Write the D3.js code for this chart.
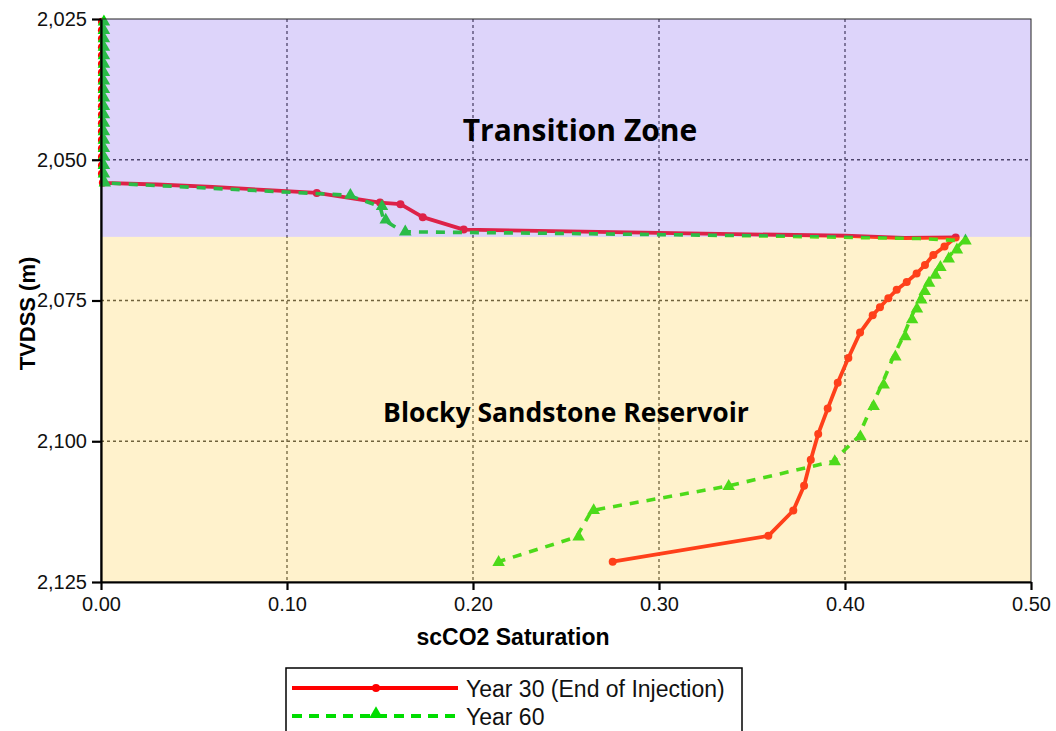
<!DOCTYPE html>
<html>
<head>
<meta charset="utf-8">
<script src="https://cdn.jsdelivr.net/npm/d3@7"></script>
<style>
  html, body { margin: 0; padding: 0; background: #ffffff; }
  svg { display: block; }
</style>
</head>
<body>
<svg id="chart" width="1056" height="731"></svg>
<script>
// scCO2 saturation profiles versus depth (TVDSS)
const xTicks = [0, 0.10, 0.20, 0.30, 0.40, 0.50];
const yTicks = [2025, 2050, 2075, 2100, 2125];

// Zones: [top depth, bottom depth]
const zoneNames = ["Transition Zone", "Blocky Sandstone Reservoir"];
const zoneTops = [2025, 2063.7];
const zoneBottoms = [2063.7, 2125];

const seriesNames = ["Year 30 (End of Injection)", "Year 60"];

// Year 30 profile
const y30Sat = [
  0.0005, 0.0005, 0.0005, 0.0005, 0.0005, 0.0005, 0.0005, 0.0005, 0.0005, 0.0005,
  0.0005, 0.0005, 0.0005, 0.0005, 0.0005, 0.0005, 0.0005, 0.0005, 0.0005,
  0.001, 0.03, 0.06, 0.09, 0.116, 0.150, 0.161, 0.173, 0.195,
  0.30, 0.40, 0.432, 0.4595,
  0.4535, 0.4475, 0.4430, 0.4385, 0.4332, 0.4278, 0.4233, 0.4188, 0.4149,
  0.4081, 0.4018, 0.3961, 0.3907, 0.3856, 0.3816, 0.3780, 0.3722, 0.3588, 0.2751
];
const y30Depth = [
  2025.5, 2027.0, 2028.5, 2030.0, 2031.5, 2033.0, 2034.5, 2036.0, 2037.5, 2039.0,
  2040.5, 2042.0, 2043.5, 2045.0, 2046.5, 2048.0, 2049.5, 2051.0, 2052.5,
  2054.1, 2054.4, 2054.8, 2055.4, 2055.9, 2057.6, 2057.9, 2060.2, 2062.4,
  2063.0, 2063.5, 2063.9, 2063.8,
  2065.4, 2066.9, 2068.7, 2070.2, 2071.7, 2073.1, 2074.6, 2076.2, 2077.6,
  2080.7, 2085.2, 2089.6, 2094.2, 2098.7, 2103.3, 2107.9, 2112.3, 2116.8, 2121.4
];

// Year 60 profile
const y60Sat = [
  0.0005, 0.0005, 0.0005, 0.0005, 0.0005, 0.0005, 0.0005, 0.0005, 0.0005, 0.0005,
  0.0005, 0.0005, 0.0005, 0.0005, 0.0005, 0.0005, 0.0005, 0.0005, 0.0005,
  0.001, 0.133, 0.150, 0.152, 0.1625,
  0.25, 0.35, 0.44, 0.4637,
  0.4591, 0.4547, 0.4502, 0.4475, 0.4441, 0.4418, 0.4399, 0.4376, 0.4350,
  0.4313, 0.4260, 0.4197, 0.4143, 0.4072, 0.3934, 0.3364, 0.2638, 0.2557, 0.2127
];
const y60Depth = [
  2025.5, 2027.0, 2028.5, 2030.0, 2031.5, 2033.0, 2034.5, 2036.0, 2037.5, 2039.0,
  2040.5, 2042.0, 2043.5, 2045.0, 2046.5, 2048.0, 2049.5, 2051.0, 2052.5,
  2054.1, 2056.3, 2058.3, 2060.7, 2062.8,
  2063.1, 2063.5, 2064.0, 2064.4,
  2066.0, 2067.6, 2069.1, 2070.5, 2071.9, 2073.4, 2074.9, 2076.5, 2078.4,
  2081.4, 2085.0, 2090.0, 2093.8, 2099.2, 2103.6, 2108.0, 2112.3, 2117.0, 2121.5
];

// Only some vertices carry a visible marker
const y60NoMarker = new Set([24, 25, 26]);
const y30NoMarker = new Set([20, 21, 22, 28, 29, 30]);

const svg = d3.select("#chart");
const plot = { left: 101, right: 1031, top: 19, bottom: 582 };

const x = d3.scaleLinear().domain([0, 0.5]).range([plot.left, plot.right]);
const y = d3.scaleLinear().domain([2025, 2125]).range([plot.top, plot.bottom]);

const fontFamily = "'Liberation Sans', Arial, sans-serif";

// Gridlines
const grid = svg.append("g").attr("class", "grid");
grid.selectAll("line.vx")
  .data(xTicks.slice(1, -1))
  .join("line")
  .attr("x1", d => x(d)).attr("x2", d => x(d))
  .attr("y1", plot.top).attr("y2", plot.bottom)
  .attr("stroke", "#333").attr("stroke-width", 1.3)
  .attr("stroke-dasharray", "3,3");
grid.selectAll("line.hy")
  .data(yTicks.slice(1, -1))
  .join("line")
  .attr("x1", plot.left).attr("x2", plot.right)
  .attr("y1", d => y(d)).attr("y2", d => y(d))
  .attr("stroke", "#333").attr("stroke-width", 1.3)
  .attr("stroke-dasharray", "3,3");

// Series
function drawSeries(sat, depth, color, dashed, marker, skip) {
  const pts = sat.map((s, i) => [s, depth[i]]);
  const line = d3.line().x(d => x(d[0])).y(d => y(d[1]));
  const g = svg.append("g");
  g.append("path")
    .attr("d", line(pts))
    .attr("fill", "none")
    .attr("stroke", color)
    .attr("stroke-width", dashed ? 3.6 : 3.8)
    .attr("stroke-linejoin", "round")
    .attr("stroke-dasharray", dashed ? "9,8" : null);
  const mk = pts.filter((d, i) => !skip.has(i));
  if (marker === "circle") {
    g.selectAll("circle").data(mk).join("circle")
      .attr("cx", d => x(d[0])).attr("cy", d => y(d[1]))
      .attr("r", 4).attr("fill", color);
  } else {
    const tri = d3.symbol().type(d3.symbolTriangle).size(68);
    g.selectAll("path.m").data(mk).join("path")
      .attr("class", "m")
      .attr("d", tri)
      .attr("transform", d => `translate(${x(d[0]) + 2},${y(d[1])})`)
      .attr("fill", color);
  }
}
drawSeries(y30Sat, y30Depth, "#ff0000", false, "circle", y30NoMarker);
drawSeries(y60Sat, y60Depth, "#00dd00", true, "triangle", y60NoMarker);

// Zone shading laid over the plot area (translucent)
const zoneColors = ["#8e70ee", "#ffd455"];
svg.append("g").selectAll("rect")
  .data(zoneNames)
  .join("rect")
  .attr("x", plot.left)
  .attr("width", plot.right - plot.left)
  .attr("y", (d, i) => y(zoneTops[i]))
  .attr("height", (d, i) => y(zoneBottoms[i]) - y(zoneTops[i]))
  .attr("fill", (d, i) => zoneColors[i])
  .attr("fill-opacity", 0.3);

// Zone labels
const zoneLabelX = [580, 566];
const zoneLabelDepth = [2046.6, 2096.5];
const zoneLabelSize = [30, 26.5];
svg.append("g").selectAll("text")
  .data(zoneNames)
  .join("text")
  .attr("x", (d, i) => zoneLabelX[i])
  .attr("y", (d, i) => y(zoneLabelDepth[i]))
  .attr("text-anchor", "middle")
  .attr("font-family", "'Open Sans', sans-serif")
  .attr("font-weight", "bold")
  .attr("font-size", (d, i) => zoneLabelSize[i])
  .attr("fill", "#000")
  .text(d => d);

// Plot frame
svg.append("rect")
  .attr("x", plot.left).attr("y", plot.top)
  .attr("width", plot.right - plot.left).attr("height", plot.bottom - plot.top)
  .attr("fill", "none").attr("stroke", "#222").attr("stroke-width", 1);

// Axes
const xAxis = d3.axisBottom(x).tickValues(xTicks).tickFormat(d3.format(".2f")).tickSize(8).tickSizeOuter(0);
const yAxis = d3.axisLeft(y).tickValues(yTicks).tickFormat(d3.format(",")).tickSize(9).tickSizeOuter(0);

const gx = svg.append("g").attr("transform", `translate(0,${plot.bottom})`).call(xAxis);
const gy = svg.append("g").attr("transform", `translate(${plot.left},0)`).call(yAxis);
[gx, gy].forEach(g => {
  g.select(".domain").attr("stroke", "#000").attr("stroke-width", 2.2);
  g.selectAll(".tick line").attr("stroke", "#000").attr("stroke-width", 2.2);
  g.selectAll(".tick text")
    .attr("font-family", fontFamily)
    .attr("font-size", 20)
    .attr("fill", "#111");
});
gx.selectAll(".tick text").attr("dy", "0.9em");
gy.selectAll(".tick text").attr("dx", "-2");

// Axis titles
svg.append("text")
  .attr("x", 513)
  .attr("y", 645)
  .attr("text-anchor", "middle")
  .attr("font-family", fontFamily)
  .attr("font-weight", "bold")
  .attr("font-size", 23)
  .text("scCO2 Saturation");
svg.append("text")
  .attr("transform", `translate(35,${y(2075) + 13}) rotate(-90)`)
  .attr("text-anchor", "middle")
  .attr("font-family", fontFamily)
  .attr("font-weight", "bold")
  .attr("font-size", 22)
  .text("TVDSS (m)");

// Legend
const legend = svg.append("g");
legend.append("rect")
  .attr("x", 286).attr("y", 668).attr("width", 456).attr("height", 80)
  .attr("fill", "#fff").attr("stroke", "#000").attr("stroke-width", 1.5);
const legendRows = [688, 716];
seriesNames.forEach((name, i) => {
  const ly = legendRows[i];
  legend.append("line")
    .attr("x1", 292).attr("x2", 458).attr("y1", ly).attr("y2", ly)
    .attr("stroke", i === 0 ? "#ff0000" : "#00dd00")
    .attr("stroke-width", 4)
    .attr("stroke-dasharray", i === 0 ? null : "10,7");
  if (i === 0) {
    legend.append("circle").attr("cx", 376).attr("cy", ly).attr("r", 4).attr("fill", "#ff0000");
  } else {
    legend.append("path")
      .attr("d", d3.symbol().type(d3.symbolTriangle).size(80)())
      .attr("transform", `translate(376,${ly - 2})`)
      .attr("fill", "#00dd00");
  }
  legend.append("text")
    .attr("x", 466).attr("y", ly + 9)
    .attr("font-family", fontFamily)
    .attr("font-size", 23)
    .attr("fill", "#111")
    .text(name);
});
</script>
</body>
</html>
